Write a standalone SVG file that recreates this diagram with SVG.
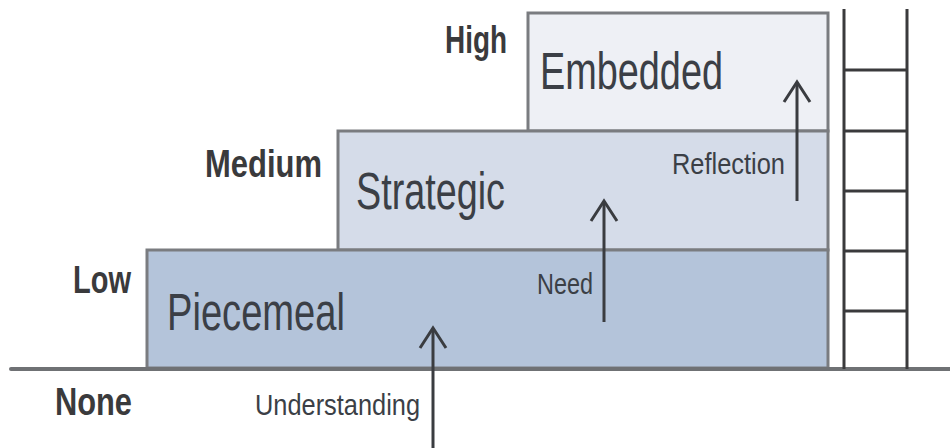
<svg xmlns="http://www.w3.org/2000/svg" width="950" height="448" viewBox="0 0 950 448">
<defs>
<marker id="chev" markerUnits="userSpaceOnUse" orient="auto" refX="0" refY="0" markerWidth="30" markerHeight="30" overflow="visible">
<path d="M-20,-13 L0,0 L-20,13" fill="none" stroke="#3a3c40" stroke-width="3" stroke-linejoin="miter"/>
</marker>
<style>
.box{stroke:#7a7c80;stroke-width:3}
.lvl{font-family:"Liberation Sans",Arial,sans-serif;font-weight:bold;font-size:39px;fill:#3a3a3c}
.name{font-family:"Liberation Sans",Arial,sans-serif;font-size:51px;fill:#3b3f46}
.lab{font-family:"Liberation Sans",Arial,sans-serif;font-size:30px;fill:#3b3f46}
.arr{stroke:#3a3c40;stroke-width:3;fill:none}
.rail{stroke:#3a3a3c;stroke-width:3;fill:none}
</style>
</defs>
<rect width="950" height="448" fill="#ffffff"/>
<g id="embedded">
<rect class="box" x="528" y="13" width="300" height="118" fill="#eef0f5"/>
<text class="name" x="540" y="89" textLength="183" lengthAdjust="spacingAndGlyphs">Embedded</text>
</g>
<g id="strategic">
<rect class="box" x="338" y="131" width="490" height="119" fill="#d5dce9"/>
<text class="name" x="356" y="209" textLength="149" lengthAdjust="spacingAndGlyphs">Strategic</text>
</g>
<g id="piecemeal">
<rect class="box" x="147" y="250" width="681" height="118" fill="#b4c4da"/>
<text class="name" x="167" y="330" textLength="178" lengthAdjust="spacingAndGlyphs">Piecemeal</text>
</g>
<g id="ground">
<line x1="11" y1="369" x2="950" y2="369" stroke="#6f7174" stroke-width="4" stroke-linecap="round"/>
</g>
<g id="ladder">
<line class="rail" x1="844" y1="9" x2="844" y2="369"/>
<line class="rail" x1="907" y1="9" x2="907" y2="369"/>
<line class="rail" x1="844" y1="70" x2="907" y2="70"/>
<line class="rail" x1="844" y1="131" x2="907" y2="131"/>
<line class="rail" x1="844" y1="191" x2="907" y2="191"/>
<line class="rail" x1="844" y1="251" x2="907" y2="251"/>
<line class="rail" x1="844" y1="311" x2="907" y2="311"/>
</g>
<g id="levels">
<text class="lvl" x="445" y="53" textLength="62" lengthAdjust="spacingAndGlyphs">High</text>
<text class="lvl" x="205" y="177" textLength="117" lengthAdjust="spacingAndGlyphs">Medium</text>
<text class="lvl" x="73" y="293" textLength="58" lengthAdjust="spacingAndGlyphs">Low</text>
<text class="lvl" x="55" y="415" textLength="77" lengthAdjust="spacingAndGlyphs">None</text>
</g>
<g id="connectors">
<line class="arr" x1="433" y1="448" x2="433" y2="328" marker-end="url(#chev)"/>
<line class="arr" x1="604" y1="322" x2="604" y2="201" marker-end="url(#chev)"/>
<line class="arr" x1="797" y1="201" x2="797" y2="82" marker-end="url(#chev)"/>
<text class="lab" x="255" y="415" textLength="165" lengthAdjust="spacingAndGlyphs">Understanding</text>
<text class="lab" x="537" y="294" textLength="56" lengthAdjust="spacingAndGlyphs">Need</text>
<text class="lab" x="672" y="174" textLength="113" lengthAdjust="spacingAndGlyphs">Reflection</text>
</g>
</svg>
